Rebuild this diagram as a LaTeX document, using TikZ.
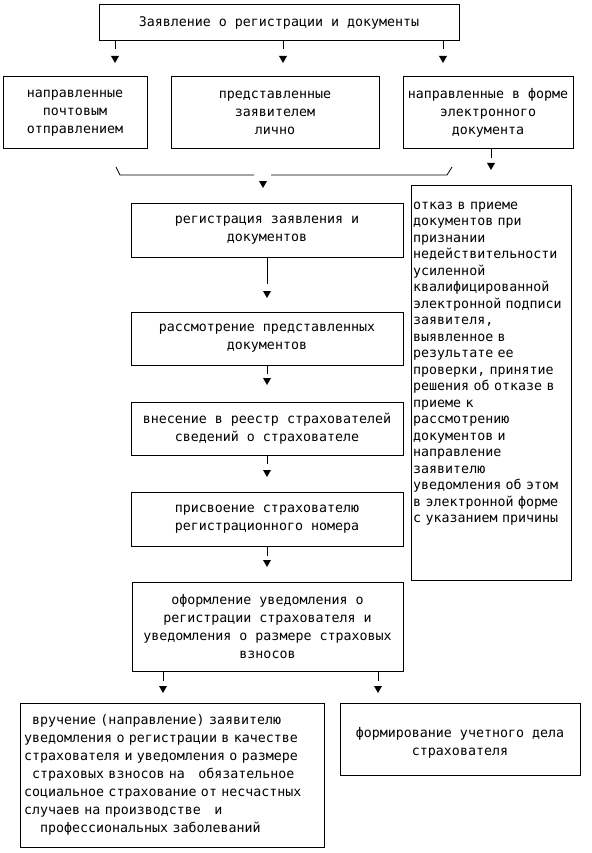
\documentclass[tikz,border=0pt]{standalone}
\usepackage{fontspec}
\newfontfamily\diag{DejaVu Sans Mono}
\begin{document}
\begin{tikzpicture}[x=1pt,y=-1pt,
  box/.style={draw, line width=1pt, align=center, inner sep=0pt,
    font=\diag\fontsize{13.3}{18}\selectfont},
  plain/.style={inner sep=0pt, font=\diag\fontsize{13.3}{16.5}\selectfont},
  link/.style={line width=1pt},
  tip/.pic={\fill (-4pt,0pt) -- (4pt,0pt) -- (0pt,-7pt) -- cycle;}]
\fill[white] (0,0) rectangle (591,853);
\useasboundingbox (0,0) rectangle (591,853);

% top
\node[box, minimum width=360, minimum height=36] (top) at (279,23)
  {Заявление о регистрации и документы};
\coordinate (t1) at (115,56);
\coordinate (t2) at (283,56);
\coordinate (t3) at (443,56);
\draw[link] (top.south -| t1) -- ++(0,8);
\draw[link] (top.south -| t2) -- ++(0,8);
\draw[link] (top.south -| t3) -- ++(0,8);
\pic at (t1) {tip};
\pic at (t2) {tip};
\pic at (t3) {tip};

% second row
\node[box, minimum width=144, minimum height=72] (b1) at (75,113)
  {направленные\\почтовым\\отправлением};
\node[box, minimum width=208, minimum height=72] (b2) at (275,113)
  {представленные\\заявителем\\лично};
\node[box, minimum width=170, minimum height=72] (b3) at (488,113)
  {направленные в форме\\электронного\\документа};

% merge line
\coordinate (m1) at (116,167);
\coordinate (m2) at (120,175);
\coordinate (m3) at (254,175);
\coordinate (m4) at (271,175);
\coordinate (m5) at (447,175);
\coordinate (m6) at (452,167);
\draw[line width=0.8pt] (m1) -- (m2) -- (m3);
\draw[line width=0.8pt] (m4) -- (m5) -- (m6);
\coordinate (tm) at (263,181);
\pic at (tm) {tip};

% branch to refusal
\coordinate (tr) at (491,163);
\draw[link] (b3.south -| tr) -- ++(0,9);
\pic at (tr) {tip};

\node[draw, line width=1pt, minimum width=160, minimum height=395, inner sep=0pt] (refuse) at (491,382.5) {};
\node[plain, text width=158, align=left, anchor=base west] (refusetext) at (413,209)
  {отказ в приеме\\документов при\\признании\\недействительности\\усиленной\\квалифицированной\\электронной подписи\\заявителя,\\выявленное в\\результате ее\\проверки, принятие\\решения об отказе в\\приеме к\\рассмотрению\\документов и\\направление\\заявителю\\уведомления об этом\\в электронной форме\\с указанием причины};

% main column
\node[box, minimum width=272, minimum height=54] (reg) at (267,230)
  {регистрация заявления и\\документов};
\coordinate (ta) at (267,291);
\draw[link] (reg.south) -- ++(0,26);
\pic at (ta) {tip};

\node[box, minimum width=272, minimum height=53] (exam) at (267,338.5)
  {рассмотрение представленных\\документов};
\coordinate (tb) at (267,378);
\draw[link] (exam.south) -- ++(0,8);
\pic at (tb) {tip};

\node[box, minimum width=272, minimum height=53] (reestr) at (267,428.5)
  {внесение в реестр страхователей\\сведений о страхователе};
\coordinate (tc) at (267,470);
\draw[link] (reestr.south) -- ++(0,8);
\pic at (tc) {tip};

\node[box, minimum width=272, minimum height=54] (number) at (267,519)
  {присвоение страхователю\\регистрационного номера};
\coordinate (td) at (267,560);
\draw[link] (number.south) -- ++(0,9);
\pic at (td) {tip};

\node[box, minimum width=271, minimum height=89] (notice) at (267.5,626.5)
  {оформление уведомления о\\регистрации страхователя и\\уведомления о размере страховых\\взносов};
\coordinate (te) at (163,686);
\coordinate (tf) at (378,686);
\draw[link] (notice.south -| te) -- ++(0,9);
\draw[link] (notice.south -| tf) -- ++(0,9);
\pic at (te) {tip};
\pic at (tf) {tip};

% bottom
\node[box, align=left, text width=296, inner xsep=4pt, minimum height=144] (deliver) at (172,775)
  {\phantom{x}вручение (направление) заявителю\\уведомления о регистрации в качестве\\страхователя и уведомления о размере\\\phantom{x}страховых взносов на~~~обязательное\\социальное страхование от несчастных\\случаев на производстве~~~и\\\phantom{xx}профессиональных заболеваний};
\node[box, minimum width=240, minimum height=72] (file) at (460,739)
  {\mbox{}\\формирование учетного дела\\страхователя};
\end{tikzpicture}
\end{document}
